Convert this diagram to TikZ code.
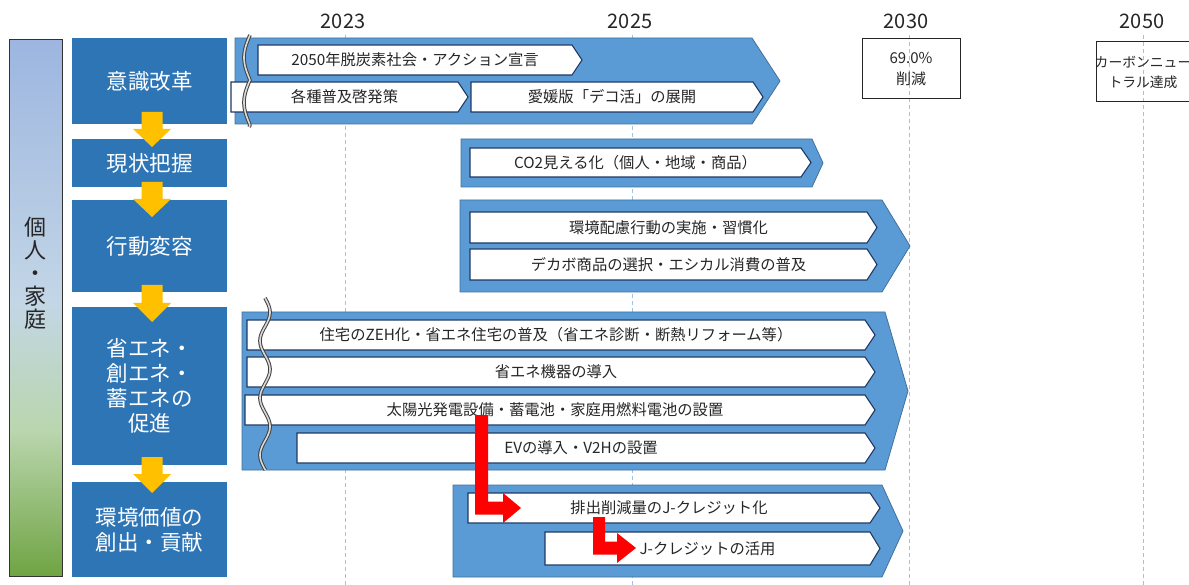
\documentclass[tikz,border=0pt]{standalone}
\usepackage{fontspec}
\setmainfont{Noto Sans CJK JP}
\definecolor{catblue}{HTML}{2E75B6}
\definecolor{bandblue}{HTML}{5B9BD5}
\definecolor{bandedge}{HTML}{41719C}
\definecolor{chevedge}{HTML}{203864}
\definecolor{gridblue}{HTML}{9DC3E6}
\definecolor{arrowyellow}{HTML}{FFC000}
\definecolor{topblue}{HTML}{9DB6E0}
\definecolor{midblue}{HTML}{C2D6E6}
\definecolor{midgreen}{HTML}{BAD6AE}
\definecolor{botgreen}{HTML}{6FA443}
\definecolor{txtdark}{HTML}{262626}
\newcommand{\chevbox}[7]{%
  \draw[chev] (#1,#2) -- ({#3-#5},#2) -- (#3,{(#2+#4)/2}) -- ({#3-#5},#4) -- (#1,#4) -- cycle;
  \node[chevtext] (#6) at ({(#1+#3-#5)/2},{(#2+#4)/2}) {#7};}
\newcommand{\bandshape}[5]{%
  \draw[band] (#1,#2) -- ({#3-#5},#2) -- (#3,{(#2+#4)/2}) -- ({#3-#5},#4) -- (#1,#4) -- cycle;}
\begin{document}
\begin{tikzpicture}[x=1pt,y=-1pt,
  chev/.style={fill=white,draw=chevedge,line width=1.1pt,line join=miter},
  chevtext/.style={inner sep=0pt,text=txtdark,font=\fontsize{15.3}{18}\selectfont},
  band/.style={fill=bandblue,draw=bandedge,line width=0.8pt},
  catbox/.style={fill=catblue,draw=none,text=white,align=center,font=\fontsize{21.5}{25}\selectfont},
  yeartext/.style={text=txtdark,font=\fontsize{20}{24}\selectfont},
  grid/.style={draw=gridblue,line width=0.9pt,dash pattern=on 4pt off 3pt},
  goalbox/.style={draw=txtdark,line width=1pt,fill=none},
  goaltext/.style={align=center,text=txtdark,font=\fontsize{15}{21}\selectfont,inner sep=0pt},
  flowarrow/.style={fill=arrowyellow,draw=none},
  redarrow/.style={fill=red,draw=none},
  waveout/.style={draw=black!75,line width=3.6pt},
  wavein/.style={draw=white!85!black,line width=1.6pt},
]
\useasboundingbox (0,0) rectangle (1189,585);
\fill[white] (0,0) rectangle (1189,585);

% year labels and grid lines
\node[yeartext] (y23) at (343,21) {2023};
\node[yeartext] (y25) at (630,21) {2025};
\node[yeartext] (y30) at (906,21) {2030};
\node[yeartext] (y50) at (1142,21) {2050};
\coordinate (g23t) at (345,35); \coordinate (g23b) at (345,585);
\coordinate (g25t) at (632,35); \coordinate (g25b) at (632,585);
\coordinate (g30t) at (909,35); \coordinate (g30b) at (909,585);
\coordinate (g50t) at (1143,35); \coordinate (g50b) at (1143,585);
\draw[grid] (g23t) -- (g23b);
\draw[grid] (g25t) -- (g25b);
\draw[grid] (g30t) -- (g30b);
\draw[grid] (g50t) -- (g50b);

% goal boxes
\draw[goalbox] (862,39) rectangle (960,99);
\node[goaltext] (goal30) at (911,69) {69.0\%\\削減};
\draw[goalbox] (1096,42) rectangle (1196,102);
\node[goaltext,font=\fontsize{13.8}{20}\selectfont] (goal50) at (1143,72) {カーボンニュー\\トラル達成};

% left column
\shade[top color=topblue,bottom color=midblue] (9,40) rectangle (62,300.5);
\shade[top color=midblue,bottom color=midgreen] (9,300) rectangle (62,430.5);
\shade[top color=midgreen,bottom color=botgreen] (9,430) rectangle (62,576);
\draw[black!80,line width=1pt] (9,40) rectangle (62,576);
\node[align=center,text=txtdark,font=\fontsize{22}{23}\selectfont] (kojin) at (35.5,273) {個\\人\\・\\家\\庭};

% category boxes
\node[catbox,minimum width=155pt,minimum height=86pt] (c1) at (149.5,81) {意識改革};
\node[catbox,minimum width=155pt,minimum height=48pt] (c2) at (149.5,163) {現状把握};
\node[catbox,minimum width=155pt,minimum height=92pt] (c3) at (149.5,246) {行動変容};
\node[catbox,minimum width=155pt,minimum height=158pt] (c4) at (149.5,386) {省エネ・\\創エネ・\\蓄エネの\\促進};
\node[catbox,minimum width=155pt,minimum height=95pt] (c5) at (149.5,529.5) {環境価値の\\創出・貢献};

% yellow flow arrows
\foreach \t/\h/\b in {112/129/147, 182/199/217, 285/303/322, 457/474/493}{
  \fill[flowarrow] (141.5,\t) -- (162.5,\t) -- (162.5,\h) -- (171,\h) -- (152,\b) -- (133,\h) -- (141.5,\h) -- cycle;
}

% row 1
\bandshape{235}{38}{780}{124}{28}
\chevbox{258}{45}{582}{75}{10}{r1a}{2050年脱炭素社会・アクション宣言}
\chevbox{231}{82}{468}{112}{10}{r1b}{各種普及啓発策}
\chevbox{471}{82}{763}{112}{10}{r1c}{愛媛版「デコ活」の展開}
\draw[waveout] plot[smooth,domain=35:127,samples=60] ({250-6*abs(sin((\x-35)*4))},\x);
\draw[wavein] plot[smooth,domain=35:127,samples=60] ({250-6*abs(sin((\x-35)*4))},\x);

% row 2
\bandshape{461}{139}{823}{187}{11}
\chevbox{470}{148}{811}{177}{10}{r2a}{CO2見える化（個人・地域・商品）}

% row 3
\bandshape{460}{200}{910}{292}{28}
\chevbox{470}{212}{877}{243}{10}{r3a}{環境配慮行動の実施・習慣化}
\chevbox{470}{249}{877}{280}{10}{r3b}{デカボ商品の選択・エシカル消費の普及}

% row 4
\bandshape{242}{312}{908}{470}{23}
\chevbox{247}{320}{875}{350}{10}{r4a}{住宅のZEH化・省エネ住宅の普及（省エネ診断・断熱リフォーム等）}
\chevbox{247}{357}{875}{387}{10}{r4b}{省エネ機器の導入}
\chevbox{245}{395}{875}{425}{10}{r4c}{太陽光発電設備・蓄電池・家庭用燃料電池の設置}
\chevbox{297}{433}{875}{463}{10}{r4d}{EVの導入・V2Hの設置}
\draw[waveout] plot[smooth,domain=298:470,samples=90] ({265+5*sin((\x-298)*6.3)},\x);
\draw[wavein] plot[smooth,domain=298:470,samples=90] ({265+5*sin((\x-298)*6.3)},\x);

% row 5
\bandshape{453}{485}{903}{577}{21}
\chevbox{468}{493}{880}{523}{10}{r5a}{排出削減量のJ-クレジット化}
\chevbox{545}{532}{880}{565}{10}{r5b}{J-クレジットの活用}

% red arrows
\fill[redarrow] (475,415) -- (488,415) -- (488,501.5) -- (503,501.5) -- (503,493) -- (521,508) -- (503,523) -- (503,514.5) -- (475,514.5) -- cycle;
\fill[redarrow] (593,517) -- (605,517) -- (605,541.5) -- (617,541.5) -- (617,533) -- (636,548) -- (617,563) -- (617,554.5) -- (593,554.5) -- cycle;
\end{tikzpicture}
\end{document}
